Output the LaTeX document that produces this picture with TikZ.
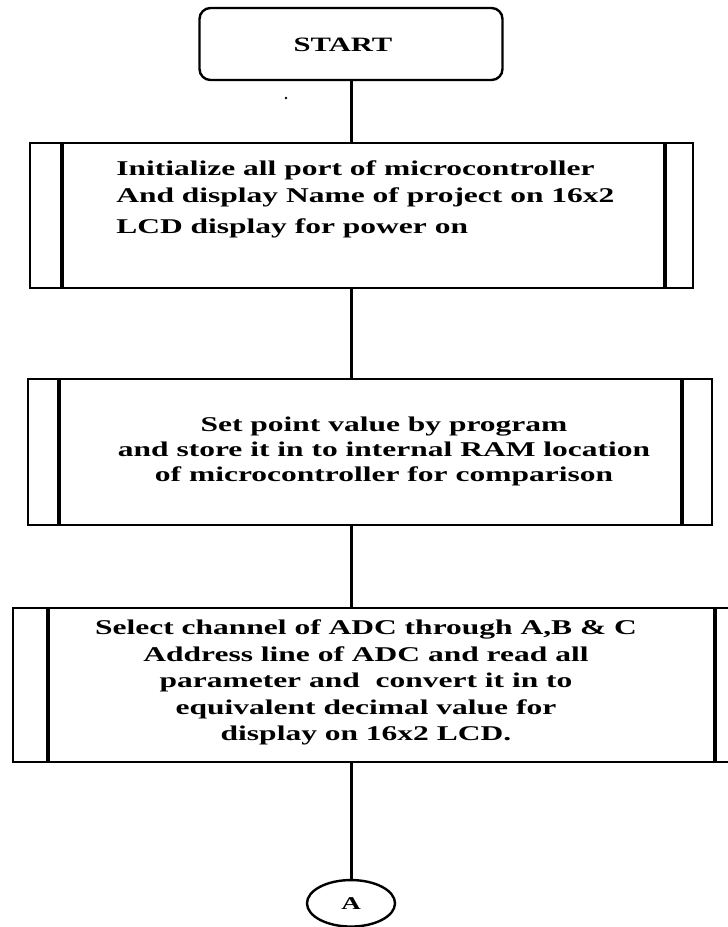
\documentclass[tikz,border=0pt]{standalone}
\usepackage{fontspec}
\setmainfont{Liberation Serif}
\usetikzlibrary{shapes.geometric}
\tikzset{
  term/.style={draw, rounded corners=11pt, line width=2.4pt, inner sep=0pt, outer sep=0pt,
               minimum width=303pt, minimum height=72pt},
  proc/.style={draw, line width=2.6pt, inner sep=0pt, outer sep=0pt},
  side/.style={line width=3.2pt},
  txt/.style={font=\bfseries\fontsize{21}{26.5}\selectfont, inner sep=0pt, xscale=1.5},
  conn/.style={draw, ellipse, line width=2.4pt, inner sep=0pt, outer sep=0pt,
               minimum width=58.7pt, minimum height=46.5pt, xscale=1.5,
               font=\bfseries\fontsize{18}{18}\selectfont},
  fl/.style={line width=3pt},
}

\begin{document}
\begin{tikzpicture}[x=1pt, y=-1pt]
  \useasboundingbox (0,0) rectangle (728,927);
  % ---------- start ----------
  \node[term] (st) at (351,44) {};
  \node[txt, anchor=base] (stt) at (343,51.7) {\fontsize{20.4}{24}\selectfont START};
  \fill (286,98) circle (1.3pt);
  % ---------- init ----------
  \node[proc, minimum width=663pt, minimum height=145pt] (p1) at (361.5,215.5) {};
  \draw[side] ([xshift=32pt]p1.north west) -- ([xshift=32pt]p1.south west);
  \draw[side] ([xshift=-28pt]p1.north east) -- ([xshift=-28pt]p1.south east);
  \node[txt, align=left, anchor=north west] (p1t) at (116,161)
    {Initialize all port of microcontroller\\And display Name of project on 16x2\\[5pt]LCD display for power on};
  % ---------- set point ----------
  \node[proc, minimum width=684pt, minimum height=146pt] (p2) at (370,452) {};
  \draw[side] ([xshift=31pt]p2.north west) -- ([xshift=31pt]p2.south west);
  \draw[side] ([xshift=-30pt]p2.north east) -- ([xshift=-30pt]p2.south east);
  \node[txt, align=center, anchor=north] (p2t) at (384,417)
    {Set point value by program\\[-1.5pt]and store it in to internal RAM location\\[-1.5pt]of microcontroller for comparison};
  % ---------- adc ----------
  \node[proc, minimum width=737pt, minimum height=154pt] (p3) at (381.5,685) {};
  \draw[side] ([xshift=35pt]p3.north west) -- ([xshift=35pt]p3.south west);
  \draw[side] ([xshift=-35pt]p3.north east) -- ([xshift=-35pt]p3.south east);
  \node[txt, align=center, anchor=north] (p3t) at (366,619.7)
    {Select channel of ADC through A,B \& C\\Address line of ADC and read all\\parameter and~ convert it in to\\equivalent decimal value for\\display on 16x2 LCD.};
  % ---------- connector ----------
  \node[conn] (ca) at (351,903.3) {A};
  \draw[fl] (st.south) -- (st.south |- p1.north);
  \draw[fl] (st.south |- p1.south) -- (st.south |- p2.north);
  \draw[fl] (st.south |- p2.south) -- (st.south |- p3.north);
  \draw[fl] (st.south |- p3.south) -- (ca.north);
\end{tikzpicture}
\end{document}
